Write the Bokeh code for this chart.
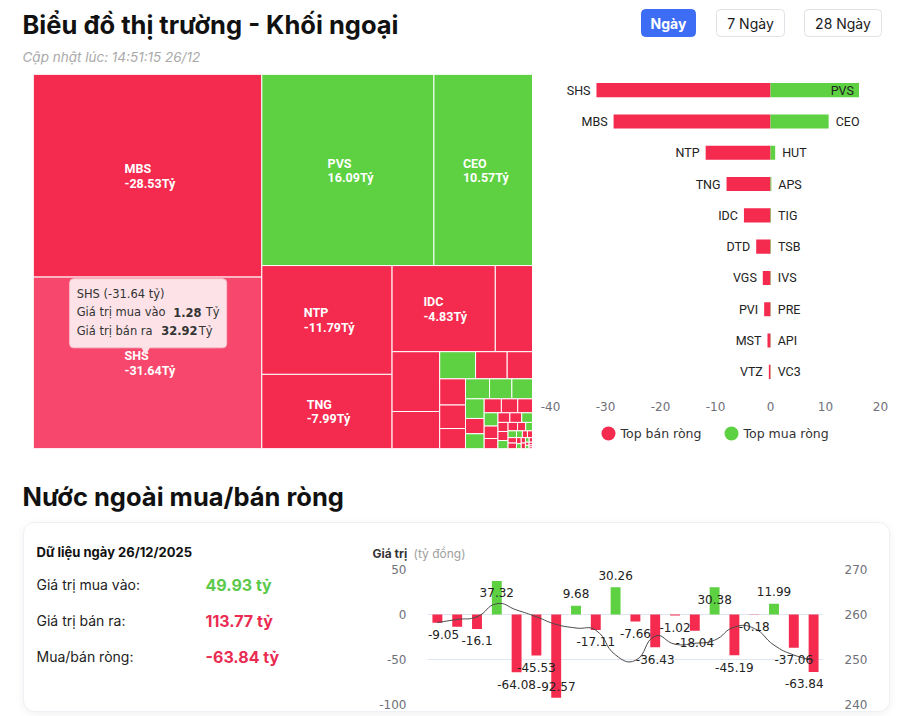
import math
from bokeh.plotting import figure
from bokeh.models import Range1d, LinearAxis, FixedTicker
from bokeh.layouts import column, row
from bokeh.core.properties import value
from bokeh.embed import file_html
from bokeh.resources import INLINE

# ---------------- data ----------------
TITLE = "Biểu đồ thị trường - Khối ngoại"
UPDATED = "Cập nhật lúc: 14:51:15 26/12"
PERIODS = ["Ngày", "7 Ngày", "28 Ngày"]

# treemap: total traded value (buy + sell, tỷ) per ticker, side = net seller (S) / net buyer (B)
tm_tickers = ["MBS", "SHS", "PVS", "CEO", "NTP", "TNG", "IDC"]
tm_net = [-28.53, -31.64, 16.09, 10.57, -11.79, -7.99, -4.83]
tm_traded = [40.42, 34.20, 28.74, 16.46, 12.38, 8.44, 7.77, 2.80, 2.49, 1.54,
             0.85, 0.75, 0.60, 0.59, 0.53, 0.45, 0.42, 0.39, 0.36, 0.32,
             0.25, 0.24, 0.21, 0.20, 0.18, 0.16, 0.15, 0.12, 0.10, 0.10,
             0.09, 0.08, 0.08, 0.07, 0.07, 0.06, 0.05, 0.05, 0.04, 0.04,
             0.035, 0.03, 0.03, 0.025, 0.02, 0.02, 0.02, 0.015, 0.013, 0.01,
             0.01, 0.008, 0.006, 0.005]
tm_side = "SSBBSSSSSSBSSSSSBBBBSBSSSBSS" + "SSBSSBSSBBSSBSSSBSSBSSBSSS"
tm_selected = "SHS"
tip_buy, tip_sell = 1.28, 32.92

# top net sellers / buyers
sell_names = ["SHS", "MBS", "NTP", "TNG", "IDC", "DTD", "VGS", "PVI", "MST", "VTZ"]
sell_vals = [-31.64, -28.53, -11.79, -7.99, -4.83, -2.6, -1.4, -1.15, -0.55, -0.3]
buy_names = ["PVS", "CEO", "HUT", "APS", "TIG", "TSB", "IVS", "PRE", "API", "VC3"]
buy_vals = [16.09, 10.57, 0.85, 0.15, 0.1, 0.08, 0.06, 0.05, 0.04, 0.03]
bar_ticks = [-40, -30, -20, -10, 0, 10, 20]
legend_labels = ["Top bán ròng", "Top mua ròng"]

# net foreign flow per session (tỷ đồng) and index (right axis)
SECTION = "Nước ngoài mua/bán ròng"
DAY_LABEL = "Dữ liệu ngày 26/12/2025"
AXIS_TITLE = ["Giá trị", "(tỷ đồng)"]
buy_total, sell_total, net_total = 49.93, 113.77, -63.84
flow_net = [-9.05, -13.6, -16.1, 37.32, -64.08, -45.53, -92.57, 9.68, -17.11, 30.26,
            -7.66, -36.43, -1.02, -18.04, 30.38, -45.19, -0.18, 11.99, -37.06, -63.84]
index_close = [258.2, 258.9, 259.5, 262.4, 261.0, 259.5, 257.8, 257.0, 256.5, 251.0,
               249.8, 255.2, 253.4, 253.6, 254.3, 257.2, 256.9, 253.2, 251.0, 249.8]
left_ticks = [-100, -50, 0, 50]
right_ticks = [240, 250, 260, 270]

# ---------------- style ----------------
RED = "#f42a4f"
GREEN = "#5dd141"
RED_HI = "#f7476c"
INK = "#1b1b1b"
AX = "#6e7079"
GRID = "#e0e6f1"
PAGE_W = 900


def bare(p):
    p.grid.visible = False
    p.outline_line_color = None
    return p


def canvas(w, h):
    p = figure(width=w, height=h, x_range=Range1d(0, w), y_range=Range1d(h, 0),
               output_backend="svg", toolbar_location=None, min_border=0,
               x_axis_location=None, y_axis_location=None)
    return bare(p)


# ---------------- header ----------------
hdr = canvas(PAGE_W, 74)
hdr.text(x=[22], y=[24], text=[TITLE], text_font=value("Inter"), text_font_size="25.5px",
         text_font_style="bold", text_color="#111111", text_baseline="middle")
hdr.text(x=[22], y=[56], text=[UPDATED], text_font=value("Inter"), text_font_size="13.5px",
         text_font_style="italic", text_color="#a9a9a9", text_baseline="middle")
btn_l = [641, 716, 804]
btn_r = [695, 784, 881]
hdr.quad(left=btn_l, right=btn_r, top=9, bottom=36,
         fill_color=["#3d6df5", "white", "white"],
         line_color=["#3d6df5", "#dfe3e8", "#dfe3e8"], border_radius=4)
bx = [(a + b) / 2 for a, b in zip(btn_l, btn_r)]
hdr.text(x=bx[:1], y=[23], text=PERIODS[:1], text_align="center", text_baseline="middle",
         text_font=value("Inter"), text_font_size="14px", text_font_style="bold", text_color="white")
hdr.text(x=bx[1:], y=[23, 23], text=PERIODS[1:], text_align="center", text_baseline="middle",
         text_font=value("Inter"), text_font_size="14px", text_color=INK)

# ---------------- treemap ----------------
TM_W, TM_H = 499, 374


def squarify(vals, w, h, ratio=1.05):
    total = sum(vals)
    areas = [v / total * w * h for v in vals]
    order = sorted(range(len(vals)), key=lambda i: -vals[i])
    rect = {"x": 0.0, "y": 0.0, "w": float(w), "h": float(h)}
    out = [None] * len(vals)

    def worst(r, ra, fixed):
        amax = max(areas[i] for i in r)
        amin = min(areas[i] for i in r)
        sq = ra * ra
        f = fixed * fixed * ratio
        return max(f * amax / sq, sq / (f * amin)) if sq else math.inf

    def position(r, ra, fixed, flush):
        horiz = fixed == rect["w"]
        other = ra / fixed if fixed else 0
        lim = rect["h"] if horiz else rect["w"]
        if flush or other > lim:
            other = lim
        last = rect["x"] if horiz else rect["y"]
        end = rect["x"] + rect["w"] if horiz else rect["y"] + rect["h"]
        for k, i in enumerate(r):
            step = areas[i] / other if other else 0
            remain = end - last
            mod = remain if (k == len(r) - 1 or remain < step) else step
            if horiz:
                out[i] = (last, rect["y"], last + mod, rect["y"] + other)
            else:
                out[i] = (rect["x"], last, rect["x"] + other, last + mod)
            last += mod
        if horiz:
            rect["y"] += other
            rect["h"] -= other
        else:
            rect["x"] += other
            rect["w"] -= other

    r, ra, fixed, best, i = [], 0.0, min(w, h), math.inf, 0
    while i < len(order):
        idx = order[i]
        r.append(idx)
        ra += areas[idx]
        s = worst(r, ra, fixed)
        if s <= best:
            i += 1
            best = s
        else:
            r.pop()
            ra -= areas[idx]
            position(r, ra, fixed, False)
            fixed = min(rect["w"], rect["h"])
            r, ra, best = [], 0.0, math.inf
    if r:
        position(r, ra, fixed, True)
    return out


cells = squarify(tm_traded, TM_W, TM_H)
sel = tm_tickers.index(tm_selected)
tm_colors = []
for k, s in enumerate(tm_side):
    c = RED if s == "S" else GREEN
    if k == sel:
        c = RED_HI
    tm_colors.append(c)

tm = bare(figure(width=33 + TM_W, height=TM_H + 2, x_range=Range1d(0, TM_W), y_range=Range1d(TM_H, 0),
                 output_backend="svg", toolbar_location=None, min_border_left=33, min_border_right=0,
                 min_border_top=0, min_border_bottom=2, x_axis_location=None, y_axis_location=None))
tm.quad(left=[c[0] for c in cells], right=[c[2] for c in cells],
        top=[c[1] for c in cells], bottom=[c[3] for c in cells],
        fill_color=tm_colors, line_color="white", line_width=1)

lx, ly, lt = [], [], []
for k, name in enumerate(tm_tickers):
    x0, y0, x1, y1 = cells[k]
    if x1 - x0 > 60 and y1 - y0 > 40:
        vs = f"{tm_net[k]:.2f}Tỷ"
        bw = max(len(name), len(vs)) * 5.8
        cx, cy = (x0 + x1) / 2, (y0 + y1) / 2
        lx += [cx - bw / 2, cx - bw / 2]
        ly += [cy - 7, cy + 7.5]
        lt += [name, vs]
tm.text(x=lx, y=ly, text=lt, text_font=value("Roboto"), text_font_size="12.5px",
        text_font_style="bold", text_color="white", text_baseline="middle")

# tooltip on the selected cell
sx0, sy0, sx1, sy1 = cells[sel]
tipx, tipy = (sx0 + sx1) / 2 - 2, (sy0 + sy1) / 2 - 9
bl, br, bb = tipx - 76, tipx + 81, tipy - 6
bt = bb - 69
tm.quad(left=[bl], right=[br], top=[bt], bottom=[bb], fill_color="#fde3e8",
        line_color="#f6c2ce", line_width=1, border_radius=4)
tm.scatter(x=[tipx], y=[bb + 2], marker="inverted_triangle", size=9,
           fill_color="#fde3e8", line_color=None)
TIP_FONT = value("DejaVu Sans")
tm.text(x=[bl + 7] * 3, y=[bt + 15, bt + 33.7, bt + 52],
        text=[f"{tm_selected} ({tm_net[sel]:.2f} tỷ)", "Giá trị mua vào", "Giá trị bán ra"],
        text_font=TIP_FONT, text_font_size="11.5px", text_color="#333333", text_baseline="middle")
tm.text(x=[bl + 103.5, bl + 91.5], y=[bt + 33.7, bt + 52],
        text=[f"{tip_buy:.2f}", f"{tip_sell:.2f}"], text_font=TIP_FONT, text_font_size="11.5px",
        text_font_style="bold", text_color="#333333", text_baseline="middle")
tm.text(x=[bl + 136, bl + 129], y=[bt + 33.7, bt + 52], text=["Tỷ", "Tỷ"], text_font=TIP_FONT,
        text_font_size="11.5px", text_color="#333333", text_baseline="middle")

# ---------------- top buy / sell bars ----------------
BC_FW = 330
BC_BL, BC_BR = 18, 20
BC_W = BC_BL + BC_FW + BC_BR
bc = bare(figure(width=BC_W, height=341, x_range=Range1d(bar_ticks[0], bar_ticks[-1]),
                 y_range=Range1d(len(sell_names) - 0.5, -0.5), output_backend="svg",
                 toolbar_location=None, min_border_left=BC_BL, min_border_right=BC_BR,
                 min_border_top=0, min_border_bottom=28, y_axis_location=None))
rows_ = list(range(len(sell_names)))
bc.hbar(y=rows_, left=sell_vals, right=0, height=0.45, fill_color=RED, line_color=None)
bc.hbar(y=rows_, left=0, right=buy_vals, height=0.45, fill_color=GREEN, line_color=None)
LBL = value("Roboto")
bc.text(x=sell_vals, y=rows_, text=sell_names, text_align="right", text_baseline="middle",
        x_offset=-6, text_font=LBL, text_font_size="12.5px", text_color="#222222")
ppu = BC_FW / (bar_ticks[-1] - bar_ticks[0])
in_x, in_y, in_t, out_x, out_y, out_t = [], [], [], [], [], []
for k, (nm, v) in enumerate(zip(buy_names, buy_vals)):
    if v + (6 + len(nm) * 8.5) / ppu > bar_ticks[-1]:
        in_x.append(v); in_y.append(k); in_t.append(nm)
    else:
        out_x.append(v); out_y.append(k); out_t.append(nm)
bc.text(x=out_x, y=out_y, text=out_t, text_align="left", text_baseline="middle", x_offset=7,
        text_font=LBL, text_font_size="12.5px", text_color="#222222")
bc.text(x=in_x, y=in_y, text=in_t, text_align="right", text_baseline="middle", x_offset=-5,
        text_font=LBL, text_font_size="12.5px", text_color="#222222")
bc.xaxis.ticker = FixedTicker(ticks=bar_ticks)
bc.xaxis.major_label_overrides = {t: str(t) for t in bar_ticks}
bc.xaxis.axis_line_color = None
bc.xaxis.major_tick_line_color = None
bc.xaxis.minor_tick_line_color = None
bc.xaxis.major_label_standoff = 8
bc.xaxis.major_label_text_color = AX
bc.xaxis.major_label_text_font = "DejaVu Sans"
bc.xaxis.major_label_text_font_size = "12px"

# legend strip under the bar chart (same side borders as the bar chart, x in pixels of the frame)
lg = bare(figure(width=BC_W, height=35, x_range=Range1d(0, BC_FW), y_range=Range1d(35, 0),
                 output_backend="svg", toolbar_location=None, min_border_left=BC_BL,
                 min_border_right=BC_BR, min_border_top=0, min_border_bottom=0,
                 x_axis_location=None, y_axis_location=None))
lg_x = [58, 181]
lg.scatter(x=lg_x, y=[18, 18], marker="circle", size=14, fill_color=[RED, GREEN], line_color=None)
lg.text(x=[x + 12 for x in lg_x], y=[18, 18], text=legend_labels, text_baseline="middle",
        text_font=value("DejaVu Sans"), text_font_size="12.5px", text_color="#333333")

# ---------------- section title ----------------
sec = canvas(PAGE_W, 72)
sec.text(x=[22], y=[46], text=[SECTION], text_font=value("Inter"), text_font_size="25.5px",
         text_font_style="bold", text_color="#111111", text_baseline="middle")

# ---------------- card ----------------
CARD_W = 865
ctop = canvas(CARD_W, 40)
ctop.text(x=[12], y=[28], text=[DAY_LABEL], text_font=value("Inter"), text_font_size="13px",
          text_font_style="bold", text_color="#111111", text_baseline="middle")
ctop.text(x=[348], y=[30], text=[AXIS_TITLE[0]], text_font=value("Inter"), text_font_size="12px",
          text_font_style="bold", text_color="#333333", text_baseline="middle")
ctop.text(x=[389], y=[30], text=[AXIS_TITLE[1]], text_font=value("Inter"), text_font_size="12px",
          text_color="#a0a0a0", text_baseline="middle")

CB_FW, CB_FH = 396, 135
BT, BB = 6, 7
lf = bare(figure(width=336, height=BT + CB_FH + BB, x_range=Range1d(0, 336), y_range=Range1d(CB_FH + 21, 21),
                 output_backend="svg", toolbar_location=None, min_border_left=0, min_border_right=0,
                 min_border_top=BT, min_border_bottom=BB, x_axis_location=None, y_axis_location=None))
lf.text(x=[12, 12, 12], y=[36, 72, 108],
        text=["Giá trị mua vào:", "Giá trị bán ra:", "Mua/bán ròng:"],
        text_font=value("Inter"), text_font_size="14px", text_color="#222222", text_baseline="middle")
lf.text(x=[181, 181, 181], y=[36, 72, 108],
        text=[f"{buy_total:.2f} tỷ", f"{sell_total:.2f} tỷ", f"{net_total:.2f} tỷ"],
        text_font=value("Inter"), text_font_size="16px", text_font_style="bold",
        text_color=["#5cc94b", "#ea2c52", "#ea2c52"], text_baseline="middle")

n = len(flow_net)
cb = bare(figure(width=67 + CB_FW + 66, height=BT + CB_FH + BB, x_range=Range1d(-0.5, n - 0.5),
                 y_range=Range1d(left_ticks[0], left_ticks[-1]), output_backend="svg",
                 toolbar_location=None, min_border_left=67, min_border_right=66,
                 min_border_top=BT, min_border_bottom=BB, x_axis_location=None))
cb.ygrid.visible = True
cb.ygrid.grid_line_color = GRID
cb.ygrid.ticker = FixedTicker(ticks=left_ticks)
cb.extra_y_ranges = {"idx": Range1d(right_ticks[0], right_ticks[-1])}
cb.add_layout(LinearAxis(y_range_name="idx"), "right")
for ax, tk in ((cb.yaxis[0], left_ticks), (cb.yaxis[1], right_ticks)):
    ax.ticker = FixedTicker(ticks=tk)
    ax.major_label_overrides = {t: str(t) for t in tk}
    ax.axis_line_color = None
    ax.major_tick_line_color = None
    ax.minor_tick_line_color = None
    ax.major_label_standoff = 15
    ax.major_label_text_color = AX
    ax.major_label_text_font = "DejaVu Sans"
    ax.major_label_text_font_size = "12px"

xs = list(range(n))
cb.vbar(x=xs, top=flow_net, bottom=0, width=0.5,
        fill_color=[GREEN if v > 0 else RED for v in flow_net], line_color=None)

# smooth index line (ECharts-like cubic smoothing)
px_x = CB_FW / n
px_y = CB_FH / (right_ticks[-1] - right_ticks[0])
P = [(x * px_x, v * px_y) for x, v in zip(xs, index_close)]
cin, cout = [None] * n, [None] * n
for i in range(n):
    x, y = P[i]
    if i == 0 or i == n - 1:
        cin[i] = cout[i] = (x, y)
        continue
    (ax_, ay_), (bx_, by_) = P[i - 1], P[i + 1]
    vx, vy = bx_ - ax_, by_ - ay_
    d0, d1 = math.hypot(x - ax_, y - ay_), math.hypot(bx_ - x, by_ - y)
    rr = d1 / (d0 + d1)
    cin[i] = (x - vx * 0.5 * (1 - rr), y - vy * 0.5 * (1 - rr))
    cout[i] = (x + vx * 0.5 * rr, y + vy * 0.5 * rr)
seg = range(n - 1)
cb.bezier(x0=[P[i][0] / px_x for i in seg], y0=[P[i][1] / px_y for i in seg],
          x1=[P[i + 1][0] / px_x for i in seg], y1=[P[i + 1][1] / px_y for i in seg],
          cx0=[cout[i][0] / px_x for i in seg], cy0=[cout[i][1] / px_y for i in seg],
          cx1=[cin[i + 1][0] / px_x for i in seg], cy1=[cin[i + 1][1] / px_y for i in seg],
          line_color="#4a4a4a", line_width=1, y_range_name="idx")

# value labels (outside bar end, kept inside the plot, overlapping ones hidden)
ppy = CB_FH / (left_ticks[-1] - left_ticks[0])
LABEL_NUDGE_PX = {3: 24, 14: 24}
boxes, tx, ty, tt = [], [], [], []
for i, v in enumerate(flow_net):
    s = f"{v:.2f}".rstrip("0").rstrip(".")
    wpx = len(s) * 6.4
    off = 12 - LABEL_NUDGE_PX.get(i, 0)
    yl = v + off / ppy if v > 0 else v - off / ppy
    yl = max(yl, left_ticks[0] + 18 / ppy)
    half = (wpx / 2) / px_x
    xl = min(max(i, -0.5 + half), n - 0.5 - half)
    cxp, cyp = (xl + 0.5) * px_x, (left_ticks[-1] - yl) * ppy
    box = (cxp - wpx / 2, cxp + wpx / 2, cyp - 7, cyp + 7)
    if any(box[0] < b[1] and b[0] < box[1] and box[2] < b[3] and b[2] < box[3] for b in boxes):
        continue
    boxes.append(box)
    tx.append(xl); ty.append(yl); tt.append(s)
cb.text(x=tx, y=ty, text=tt, text_align="center", text_baseline="middle",
        text_font=value("DejaVu Sans"), text_font_size="12px", text_color="#222222")

card = column(ctop, row(lf, cb), margin=(0, 0, 0, 23),
              styles={"border": "1px solid #edf0f4", "border-radius": "12px",
                      "box-shadow": "0 2px 10px rgba(0,0,0,0.06)", "overflow": "hidden",
                      "background": "white"})

page = column(hdr, row(tm, column(bc, lg)), sec, card)
open("out.html", "w").write(file_html(page, INLINE))
